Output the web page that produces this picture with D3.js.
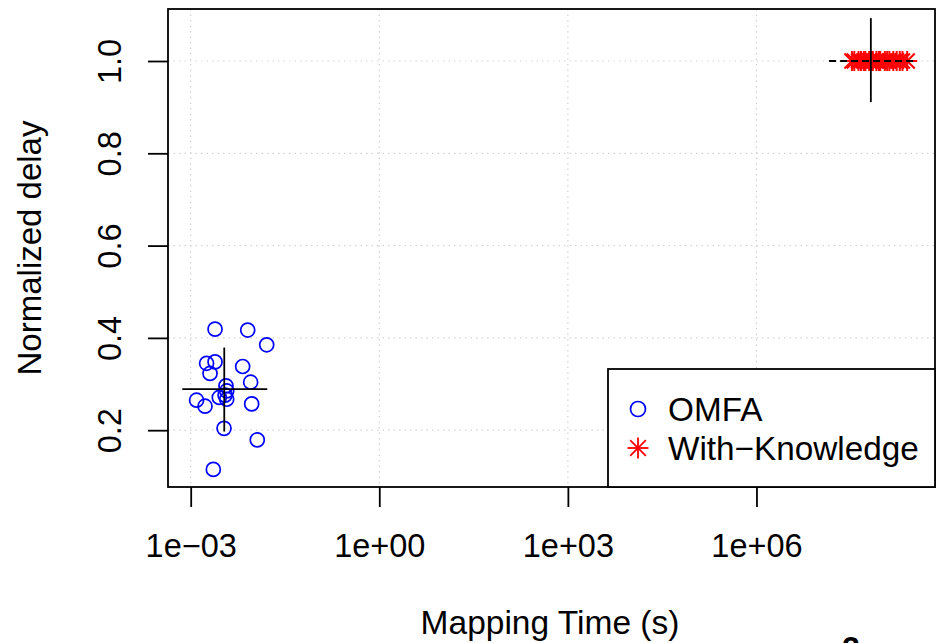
<!DOCTYPE html>
<html>
<head>
<meta charset="utf-8">
<script src="https://cdn.jsdelivr.net/npm/d3@7"></script>
<style>
  html, body { margin: 0; padding: 0; background: #fff; }
  svg { display: block; font-family: "Liberation Sans", Arial, Helvetica, sans-serif; }
</style>
</head>
<body>
<svg id="chart" width="938" height="643"></svg>
<script>
// ---- data ----
const xTickValues = [1e-3, 1e0, 1e3, 1e6];
const xTickLabels = ["1e\u221203", "1e+00", "1e+03", "1e+06"];
const yTickValues = [0.2, 0.4, 0.6, 0.8, 1.0];
const yTickLabels = ["0.2", "0.4", "0.6", "0.8", "1.0"];

const omfaTime  = [0.00244, 0.00807, 0.01618, 0.00179, 0.00244, 0.00203, 0.00671, 0.00899, 0.00364, 0.00374,
                   0.00352, 0.00285, 0.00374, 0.00124, 0.00169, 0.00933, 0.00339, 0.01146, 0.00229];
const omfaDelay = [0.419, 0.417, 0.385, 0.345, 0.348, 0.323, 0.338, 0.304, 0.296, 0.285,
                   0.276, 0.271, 0.267, 0.265, 0.252, 0.257, 0.204, 0.179, 0.115];

const wkTime  = [3.3e7, 3.6e7, 4.2e7, 4.6e7, 5.1e7, 5.4e7, 6.2e7, 6.8e7, 7.1e7, 8.1e7,
                 8.9e7, 9.3e7, 1.1e8, 1.2e8, 1.3e8, 1.5e8, 1.7e8, 1.9e8, 2.1e8, 2.5e8];
const wkDelay = [1.0, 1.0, 1.0, 1.0, 1.0, 1.0, 1.0, 1.0, 1.0, 1.0,
                 1.0, 1.0, 1.0, 1.0, 1.0, 1.0, 1.0, 1.0, 1.0, 1.0];

// error crosses: [centerTime, lowTime, highTime, centerDelay, lowDelay, highDelay]
const omfaCross = [0.00342, 0.000735, 0.01652, 0.289, 0.197, 0.379];
const wkCross   = [6.6e7, 1.43e7, 3.53e8, 1.0, 0.911, 1.093];

const seriesNames = ["OMFA", "With\u2212Knowledge"];
const xTitle = "Mapping Time (s)";
const yTitle = "Normalized delay";

// ---- layout ----
const L = 168, R = 935, T = 9, B = 487;
const svg = d3.select("#chart");

const x = d3.scaleLog().domain([Math.pow(10, -3.361), Math.pow(10, 8.84)]).range([L, R]);
const y = d3.scaleLinear().domain([0.0769, 1.1127]).range([B, T]);

// grid
const grid = svg.append("g").attr("stroke", "#d3d3d3").attr("stroke-width", 1.2).attr("stroke-dasharray", "1.5,4");
grid.selectAll("line.vx").data(xTickValues).join("line")
  .attr("x1", d => x(d)).attr("x2", d => x(d)).attr("y1", T).attr("y2", B);
grid.selectAll("line.hy").data(yTickValues).join("line")
  .attr("x1", L).attr("x2", R).attr("y1", d => y(d)).attr("y2", d => y(d));

// axes
const xAxis = d3.axisBottom(x).tickValues(xTickValues)
  .tickFormat((d, i) => xTickLabels[i]).tickSize(20).tickSizeOuter(0);
const gx = svg.append("g").attr("transform", `translate(0,${B})`).call(xAxis);
gx.select(".domain").remove();
gx.selectAll(".tick line").attr("stroke", "#000").attr("stroke-width", 1.8);
gx.selectAll(".tick text").attr("y", 70).attr("dy", 0)
  .attr("font-size", 32.5).attr("fill", "#000").attr("font-family", "Liberation Sans, Arial, sans-serif");

const yAxis = d3.axisLeft(y).tickValues(yTickValues)
  .tickFormat((d, i) => yTickLabels[i]).tickSize(20).tickSizeOuter(0);
const gy = svg.append("g").attr("transform", `translate(${L},0)`).call(yAxis);
gy.select(".domain").remove();
gy.selectAll(".tick line").attr("stroke", "#000").attr("stroke-width", 1.8);
gy.selectAll(".tick text")
  .attr("x", null).attr("dy", 0)
  .attr("transform", "translate(-47,0) rotate(-90)")
  .attr("text-anchor", "middle")
  .attr("font-size", 32.5).attr("fill", "#000").attr("font-family", "Liberation Sans, Arial, sans-serif");

// plot box
svg.append("rect").attr("x", L).attr("y", T).attr("width", R - L).attr("height", B - T)
  .attr("fill", "none").attr("stroke", "#000").attr("stroke-width", 1.8);

// OMFA points
const omfa = omfaTime.map((t, i) => ({t, d: omfaDelay[i]}));
svg.append("g").selectAll("circle").data(omfa).join("circle")
  .attr("cx", p => x(p.t)).attr("cy", p => y(p.d)).attr("r", 7)
  .attr("fill", "none").attr("stroke", "#0000ff").attr("stroke-width", 1.7);

// asterisk helper
function asterisk(g, cx, cy, s) {
  const a = s * 0.75;
  g.append("line").attr("x1", cx - s).attr("x2", cx + s).attr("y1", cy).attr("y2", cy);
  g.append("line").attr("x1", cx).attr("x2", cx).attr("y1", cy - s).attr("y2", cy + s);
  g.append("line").attr("x1", cx - a).attr("x2", cx + a).attr("y1", cy - a).attr("y2", cy + a);
  g.append("line").attr("x1", cx - a).attr("x2", cx + a).attr("y1", cy + a).attr("y2", cy - a);
}
const wkG = svg.append("g").attr("stroke", "#ff0000").attr("stroke-width", 2);
wkTime.forEach((t, i) => asterisk(wkG, x(t), y(wkDelay[i]), 10));

// error crosses
function cross(c, dash) {
  const g = svg.append("g").attr("stroke", "#000").attr("stroke-width", 1.8);
  g.append("line").attr("x1", x(c[1])).attr("x2", x(c[2])).attr("y1", y(c[3])).attr("y2", y(c[3]))
    .attr("stroke-dasharray", dash ? "7,4" : null);
  g.append("line").attr("x1", x(c[0])).attr("x2", x(c[0])).attr("y1", y(c[4])).attr("y2", y(c[5]));
}
cross(omfaCross, false);
cross(wkCross, true);

// legend
const lg = svg.append("g");
lg.append("rect").attr("x", 608).attr("y", 369).attr("width", R - 608).attr("height", B - 369)
  .attr("fill", "#fff").attr("stroke", "#000").attr("stroke-width", 1.8);
lg.append("circle").attr("cx", 638).attr("cy", 409).attr("r", 7.5)
  .attr("fill", "none").attr("stroke", "#0000ff").attr("stroke-width", 1.7);
const lgA = lg.append("g").attr("stroke", "#ff0000").attr("stroke-width", 1.8);
asterisk(lgA, 638, 448, 10.5);
lg.selectAll("text").data(seriesNames).join("text")
  .attr("x", 668).attr("y", (d, i) => 409 + 11.5 + i * 39)
  .attr("font-size", 33.3).attr("fill", "#000").text(d => d);

// axis titles
svg.append("text").attr("x", 550).attr("y", 634).attr("text-anchor", "middle")
  .attr("font-size", 33.5).attr("fill", "#000").text(xTitle);
svg.append("text").attr("transform", "translate(41,248) rotate(-90)").attr("text-anchor", "middle")
  .attr("font-size", 33).attr("fill", "#000").text(yTitle);

// glyph cut off at the bottom edge, as in the reference
svg.append("text").attr("x", 851).attr("y", 659).attr("text-anchor", "middle")
  .attr("font-size", 32).attr("font-weight", "bold").attr("fill", "#000").text("2");
</script>
</body>
</html>
